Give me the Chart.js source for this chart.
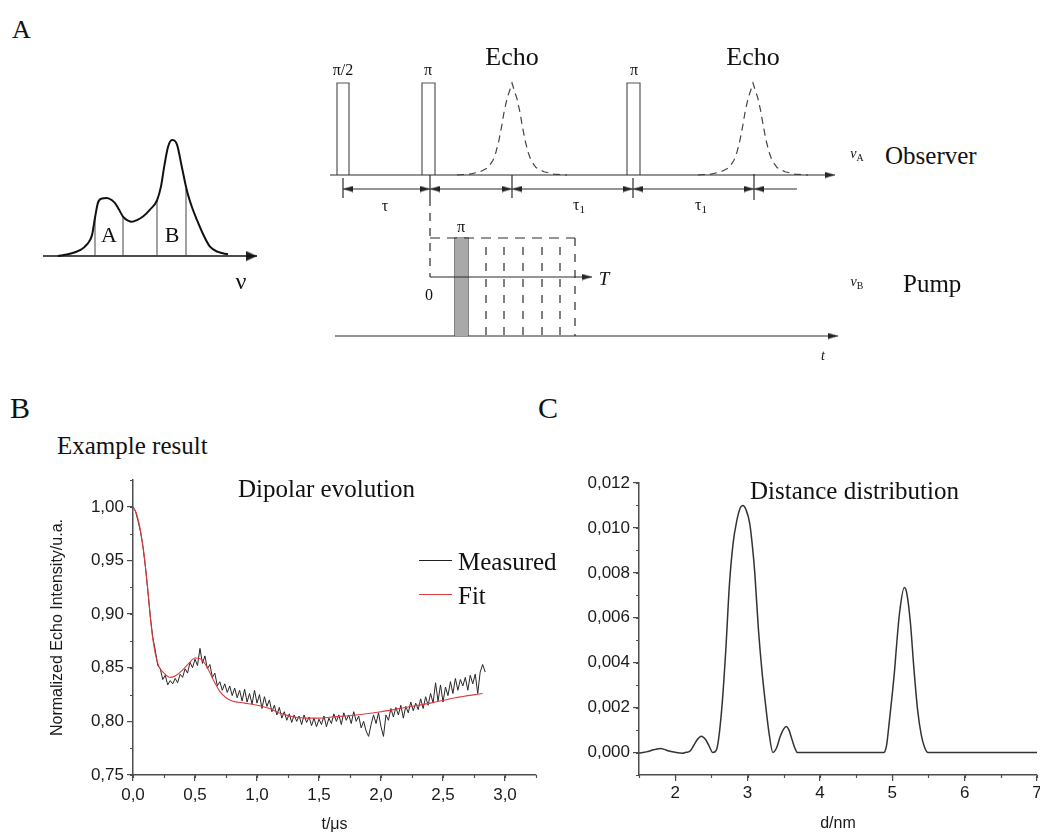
<!DOCTYPE html>
<html>
<head>
<meta charset="utf-8">
<script src="https://cdn.jsdelivr.net/npm/chart.js@4.4.0/dist/chart.umd.min.js"></script>
<style>
body { margin: 0; background: #fff; width: 1040px; height: 834px; position: relative; overflow: hidden; }
canvas { position: absolute; }
.lbl { position: absolute; white-space: nowrap; font-family: "Liberation Serif", "Times New Roman", serif; color: #111; line-height: 1; }
.c { transform: translate(-50%, -50%); }
.l { transform: translate(0, -50%); }
.lbl sub { font-size: 70%; vertical-align: -0.25em; font-style: normal; }
.sw { position: absolute; height: 1px; }
</style>
</head>
<body>
<canvas id="spec" width="250" height="180" style="left:30px;top:120px"></canvas>
<canvas id="seq" width="540" height="345" style="left:320px;top:30px"></canvas>
<canvas id="dipolar" width="560" height="374" style="left:0px;top:460px"></canvas>
<canvas id="dist" width="500" height="374" style="left:540px;top:460px"></canvas>
<div class="sw" style="left:419px;top:560px;width:33px;background:#222"></div>
<div class="sw" style="left:419px;top:594px;width:33px;background:#e0393e"></div>
<script>
// ---- panel A, left: absorption spectrum (arbitrary units) ----
var specNu = [15, 25, 37, 44, 49, 52, 55, 59, 64, 69, 72, 76, 80, 85, 89, 94, 100, 107, 114, 118, 121, 125, 129, 134, 139, 144, 149, 154, 160, 167, 175, 185];
var specI  = [0, 0.015, 0.05, 0.10, 0.18, 0.33, 0.46, 0.495, 0.50, 0.48, 0.455, 0.40, 0.34, 0.305, 0.295, 0.31, 0.34, 0.40, 0.48, 0.60, 0.76, 0.94, 1.0, 0.96, 0.76, 0.56, 0.42, 0.31, 0.19, 0.08, 0.035, 0.015];
var bandNu = [52, 80, 114, 143];
var bandI  = [0.33, 0.34, 0.48, 0.58];
var specAxisEnd = 214;

// ---- panel A, right: pulse sequence (time in arbitrary units) ----
var obsLevel = 200, pulseTop = 292, spanLevel = 186, pumpLevel = 39, pumpTop = 137, tAxisLevel = 98;
var obsPulseStart = [17, 102, 307];
var obsPulseEnd   = [29, 115, 320];
var echoCentre = [192, 433];
var echoOffset = [-55, -42, -32, -24, -19, -16, -13, -10, -8, -5, -2, 0, 2, 5, 8, 10, 13, 16, 19, 24, 32, 42, 55];
var echoShape  = [0, 0.01, 0.035, 0.08, 0.16, 0.25, 0.38, 0.55, 0.68, 0.83, 0.93, 1, 0.93, 0.83, 0.68, 0.55, 0.38, 0.25, 0.16, 0.08, 0.035, 0.01, 0];
var timeMarks = [23, 110, 192, 313, 434];
var markLow   = [177, 177, 177, 177, 175];
var markHigh  = [197, 200, 200, 197, 201];
var spanEnd = 477;
var pumpPulse = [135, 148];
var pumpSteps = [166, 184, 203, 222, 240];
var pumpBoxEnd = 255;
var stepTop = 128;

// ---- panel B: dipolar evolution ----
var tMeas = [0.00,0.02,0.04,0.06,0.08,0.10,0.12,0.14,0.16,0.18,0.20,0.22,0.24,0.26,0.28,0.30,0.32,0.34,0.36,0.38,
  0.40,0.42,0.44,0.46,0.48,0.50,0.52,0.54,0.56,0.58,0.60,0.62,0.64,0.66,0.68,0.70,0.72,0.74,0.76,0.78,
  0.80,0.82,0.84,0.86,0.88,0.90,0.92,0.94,0.96,0.98,1.00,1.02,1.04,1.06,1.08,1.10,1.12,1.14,1.16,1.18,
  1.20,1.22,1.24,1.26,1.28,1.30,1.32,1.34,1.36,1.38,1.40,1.42,1.44,1.46,1.48,1.50,1.52,1.54,1.56,1.58,
  1.60,1.62,1.64,1.66,1.68,1.70,1.72,1.74,1.76,1.78,1.80,1.82,1.84,1.86,1.88,1.90,1.92,1.94,1.96,1.98,
  2.00,2.02,2.04,2.06,2.08,2.10,2.12,2.14,2.16,2.18,2.20,2.22,2.24,2.26,2.28,2.30,2.32,2.34,2.36,2.38,
  2.40,2.42,2.44,2.46,2.48,2.50,2.52,2.54,2.56,2.58,2.60,2.62,2.64,2.66,2.68,2.70,2.72,2.74,2.76,2.78,
  2.80,2.82,2.84];
var measured = [1.000,0.996,0.987,0.977,0.963,0.944,0.921,0.897,0.878,0.866,0.852,0.849,0.839,0.843,0.834,0.838,0.835,0.840,0.836,0.844,
  0.841,0.849,0.845,0.855,0.850,0.858,0.852,0.868,0.854,0.861,0.849,0.853,0.841,0.845,0.833,0.837,0.829,0.835,0.827,0.833,
  0.824,0.831,0.822,0.829,0.819,0.830,0.818,0.826,0.816,0.829,0.817,0.825,0.812,0.823,0.814,0.820,0.809,0.815,0.806,0.813,
  0.803,0.809,0.801,0.807,0.799,0.806,0.800,0.805,0.797,0.806,0.799,0.804,0.796,0.803,0.795,0.802,0.797,0.805,0.795,0.803,
  0.798,0.807,0.800,0.806,0.797,0.808,0.801,0.806,0.798,0.809,0.800,0.805,0.794,0.800,0.791,0.786,0.797,0.806,0.798,0.808,
  0.795,0.786,0.806,0.801,0.812,0.804,0.813,0.806,0.815,0.803,0.814,0.808,0.818,0.810,0.817,0.811,0.821,0.812,0.823,0.815,
  0.826,0.817,0.836,0.819,0.834,0.818,0.832,0.824,0.837,0.826,0.840,0.829,0.839,0.833,0.841,0.829,0.843,0.835,0.844,0.826,
  0.846,0.853,0.846];
var tFit = [0, 0.03, 0.06, 0.09, 0.12, 0.15, 0.18, 0.21, 0.25, 0.30, 0.35, 0.40, 0.45, 0.50, 0.55, 0.60, 0.65, 0.70, 0.75, 0.80,
  0.90, 1.00, 1.10, 1.20, 1.30, 1.40, 1.50, 1.60, 1.80, 2.00, 2.20, 2.40, 2.60, 2.82];
var fit = [1.000, 0.993, 0.978, 0.955, 0.922, 0.886, 0.863, 0.851, 0.845, 0.841, 0.843, 0.848, 0.854, 0.859, 0.858, 0.850, 0.838, 0.828, 0.822, 0.819,
  0.817, 0.815, 0.812, 0.807, 0.804, 0.803, 0.803, 0.804, 0.806, 0.809, 0.813, 0.817, 0.822, 0.826];
var bXTicks = [0, 0.5, 1.0, 1.5, 2.0, 2.5, 3.0];
var bYTicks = [0.75, 0.80, 0.85, 0.90, 0.95, 1.00];

// ---- panel C: distance distribution ----
var dNm = [1.5, 1.6, 1.7, 1.75, 1.8, 1.85, 1.9, 2.0, 2.1, 2.15, 2.2, 2.25, 2.3, 2.36, 2.42, 2.47, 2.52, 2.567,
  2.6, 2.65, 2.7, 2.75, 2.8, 2.85, 2.9, 2.935, 2.98, 3.03, 3.07, 3.1, 3.15, 3.2, 3.25, 3.3, 3.35,
  3.4, 3.45, 3.5, 3.535, 3.57, 3.62, 3.66, 3.69, 3.75, 4.0, 4.5, 4.88,
  4.92, 4.95, 5.0, 5.033, 5.05, 5.1, 5.166, 5.2, 5.25, 5.3, 5.35, 5.4, 5.45, 5.494, 5.55, 6.0, 7.0];
var pDist = [-0.00002, 0.00003, 0.00012, 0.00016, 0.00018, 0.00014, 0.00008, 0.00001, -0.00003, 0.00001, 0.00005, 0.00028, 0.00055, 0.00073, 0.00058, 0.00028, 0.0, 0.0001,
  0.0006, 0.0022, 0.0046, 0.0075, 0.0093, 0.0103, 0.0109, 0.0110, 0.0108, 0.0102, 0.0091, 0.0080, 0.0055, 0.0036, 0.0021, 0.0008, 0.0,
  0.0002, 0.0007, 0.00105, 0.00116, 0.00102, 0.00052, 0.00015, 0.0, 0.0, 0.0, 0.0, 0.0,
  0.0003, 0.0011, 0.0026, 0.0037, 0.0044, 0.0062, 0.00735, 0.0071, 0.0058, 0.0037, 0.0019, 0.0008, 0.0002, 0.0, 0.0, 0.0, 0.0];
var cXTicks = [2, 3, 4, 5, 6, 7];
var cYTicks = [0, 0.002, 0.004, 0.006, 0.008, 0.010, 0.012];

var INK = '#2b2b2b';
var AX = '#4d4d4d';
Chart.defaults.font.family = '"Liberation Sans", Arial, sans-serif';
Chart.defaults.color = '#1a1a1a';

function pairs(xs, ys) {
  return xs.map(function (x, i) { return { x: x, y: ys[i] }; });
}

// arrowhead image, tip at the centre so rotation keeps the tip in place
function arrowHead(len, half) {
  var c = document.createElement('canvas');
  c.width = len * 2;
  c.height = half * 2 + 1;
  var g = c.getContext('2d');
  g.fillStyle = '#1e1e1e';
  g.beginPath();
  g.moveTo(0, 0.5);
  g.lineTo(len, half + 0.5);
  g.lineTo(0, half * 2 + 0.5);
  g.closePath();
  g.fill();
  return c;
}
var headBig = arrowHead(11, 5);
var headSmall = arrowHead(10, 3);

function seg(pts, extra) {
  var d = { data: pts, showLine: true, pointRadius: 0, borderColor: INK, borderWidth: 1.2, fill: false };
  for (var k in extra) d[k] = extra[k];
  return d;
}

function bareScales(xmin, xmax, ymin, ymax) {
  return {
    x: { type: 'linear', display: false, min: xmin, max: xmax },
    y: { type: 'linear', display: false, min: ymin, max: ymax }
  };
}

var bareOpts = function (scales) {
  return {
    responsive: false, animation: false, events: [],
    layout: { padding: 0, autoPadding: false },
    plugins: { legend: { display: false }, tooltip: { enabled: false } },
    scales: scales
  };
};

// ---------- spectrum ----------
var specSets = [
  seg(pairs(specNu, specI), { borderWidth: 2, borderColor: '#111', cubicInterpolationMode: 'monotone' })
];
bandNu.forEach(function (nu, i) {
  specSets.push(seg([{ x: nu, y: 0 }, { x: nu, y: bandI[i] }], { borderWidth: 1, borderColor: '#444' }));
});
specSets.push(seg([{ x: 0, y: 0 }, { x: specAxisEnd, y: 0 }], { borderWidth: 1.3, borderColor: '#111' }));
specSets.push({ data: [{ x: specAxisEnd, y: 0 }], showLine: false, pointStyle: headBig, pointRadius: 6, pointRotation: 0 });

new Chart(document.getElementById('spec'), {
  type: 'scatter',
  data: { datasets: specSets },
  options: bareOpts(bareScales(-13, 237, -0.379, 1.172))
});

// ---------- pulse sequence ----------
var seqSets = [];
var heads = [];
// observer axis
seqSets.push(seg([{ x: 10, y: obsLevel }, { x: 515, y: obsLevel }]));
heads.push([515, obsLevel, 0]);
// observer pulses
obsPulseStart.forEach(function (s, i) {
  var e = obsPulseEnd[i];
  seqSets.push(seg([{ x: s, y: obsLevel }, { x: s, y: pulseTop }, { x: e, y: pulseTop }, { x: e, y: obsLevel }], { borderColor: '#555' }));
});
// echoes
echoCentre.forEach(function (c) {
  seqSets.push(seg(echoOffset.map(function (o, i) {
    return { x: c + o, y: obsLevel + echoShape[i] * (pulseTop - obsLevel) };
  }), { borderDash: [7, 5], borderColor: '#444' }));
});
// time marks and spans
timeMarks.forEach(function (t, i) {
  seqSets.push(seg([{ x: t, y: markLow[i] }, { x: t, y: markHigh[i] }]));
});
seqSets.push(seg([{ x: timeMarks[0], y: spanLevel }, { x: spanEnd, y: spanLevel }]));
timeMarks.forEach(function (t, i) {
  if (i > 0) heads.push([t, spanLevel, 0]);
  heads.push([t, spanLevel, 180]);
});
// pump window (dashed)
seqSets.push(seg([{ x: timeMarks[1], y: markLow[1] }, { x: timeMarks[1], y: tAxisLevel }], { borderDash: [8, 7] }));
seqSets.push(seg([{ x: timeMarks[1], y: pumpTop }, { x: pumpBoxEnd, y: pumpTop }], { borderDash: [10, 7] }));
seqSets.push(seg([{ x: pumpBoxEnd, y: pumpTop }, { x: pumpBoxEnd, y: pumpLevel }], { borderDash: [8, 8] }));
pumpSteps.forEach(function (t) {
  seqSets.push(seg([{ x: t, y: stepTop }, { x: t, y: pumpLevel }], { borderDash: [8, 8] }));
});
// T axis
seqSets.push(seg([{ x: timeMarks[1], y: tAxisLevel }, { x: 272, y: tAxisLevel }]));
heads.push([272, tAxisLevel, 0]);
// pump pulse (grey)
seqSets.push(seg([{ x: pumpPulse[0], y: pumpTop }, { x: pumpPulse[1], y: pumpTop }], { borderWidth: 0, fill: { value: pumpLevel }, backgroundColor: '#a9a9a9' }));
seqSets.push(seg([{ x: pumpPulse[0], y: pumpLevel }, { x: pumpPulse[0], y: pumpTop }, { x: pumpPulse[1], y: pumpTop }, { x: pumpPulse[1], y: pumpLevel }], { borderColor: '#333' }));
// pump axis
seqSets.push(seg([{ x: 15, y: pumpLevel }, { x: 518, y: pumpLevel }]));
heads.push([518, pumpLevel, 0]);
seqSets.push({
  data: heads.map(function (h) { return { x: h[0], y: h[1] }; }),
  showLine: false, pointStyle: headSmall, pointRadius: 6,
  pointRotation: heads.map(function (h) { return h[2]; })
});

new Chart(document.getElementById('seq'), {
  type: 'scatter',
  data: { datasets: seqSets },
  options: bareOpts(bareScales(0, 540, 0, 345))
});

// ---------- data plots ----------
var minorTicks = {
  id: 'minorTicks',
  afterDraw: function (chart, args, opts) {
    var ctx = chart.ctx;
    ctx.save();
    ctx.strokeStyle = AX;
    ctx.lineWidth = 1.2;
    ['x', 'y'].forEach(function (id) {
      var step = opts[id], s = chart.scales[id];
      if (!step) return;
      ctx.beginPath();
      for (var k = Math.ceil(s.min / step - 1e-6); k * step <= s.max + 1e-9; k++) {
        var p = Math.round(s.getPixelForValue(k * step)) + 0.5;
        if (id === 'x') { ctx.moveTo(p, s.top); ctx.lineTo(p, s.top + opts.len); }
        else { ctx.moveTo(s.right, p); ctx.lineTo(s.right - opts.len, p); }
      }
      ctx.stroke();
    });
    ctx.restore();
  }
};

function comma(dec) {
  return function (v) { return Number(v).toFixed(dec).replace('.', ','); };
}

function axis(min, max, ticks, fmt, fitFn, tickPad, title) {
  return {
    type: 'linear', min: min, max: max,
    afterBuildTicks: function (s) { s.ticks = ticks.map(function (v) { return { value: v }; }); },
    afterFit: fitFn,
    grid: { drawOnChartArea: false, tickLength: 6, color: AX, lineWidth: 1.2 },
    border: { color: AX, width: 1.5 },
    ticks: { callback: fmt, font: { size: 17 }, padding: tickPad, maxRotation: 0, autoSkip: false, color: '#1a1a1a' },
    title: title ? { display: true, text: title.text, font: { size: title.size }, padding: 0, color: '#1a1a1a' } : { display: false }
  };
}

new Chart(document.getElementById('dipolar'), {
  type: 'scatter',
  data: {
    datasets: [
      { data: pairs(tFit, fit), showLine: true, pointRadius: 0, borderColor: '#e0393e', borderWidth: 1.1, cubicInterpolationMode: 'monotone' },
      { data: pairs(tMeas, measured), showLine: true, pointRadius: 0, borderColor: '#262626', borderWidth: 1 }
    ]
  },
  options: {
    responsive: false, animation: false, events: [],
    layout: { padding: { left: 48, top: 20, right: 24, bottom: 0 }, autoPadding: false },
    plugins: { legend: { display: false }, tooltip: { enabled: false }, minorTicks: { x: 0.25, y: 0.025, len: 3 } },
    scales: {
      x: axis(0, 3.25, bXTicks, comma(1), function (s) { s.height = 59; s.paddingLeft = 0; s.paddingRight = 0; }, 4, { text: 't/μs', size: 16 }),
      y: axis(0.75, 1.025, bYTicks, comma(2), function (s) { s.width = 85; s.paddingTop = 0; s.paddingBottom = 0; }, 3, { text: 'Normalized Echo Intensity/u.a.', size: 16 })
    }
  },
  plugins: [minorTicks]
});

new Chart(document.getElementById('dist'), {
  type: 'scatter',
  data: {
    datasets: [
      { data: pairs(dNm, pDist), showLine: true, pointRadius: 0, borderColor: '#333', borderWidth: 1.5, cubicInterpolationMode: 'monotone' }
    ]
  },
  options: {
    responsive: false, animation: false, events: [],
    layout: { padding: { left: 10, top: 23, right: 3, bottom: 1 }, autoPadding: false },
    plugins: { legend: { display: false }, tooltip: { enabled: false }, minorTicks: { x: 0.5, y: 0.001, len: 3 } },
    scales: {
      x: axis(1.5, 7, cXTicks, comma(0), function (s) { s.height = 58; s.paddingLeft = 0; s.paddingRight = 0; }, 2, { text: 'd/nm', size: 16 }),
      y: axis(-0.001, 0.012, cYTicks, comma(3), function (s) { s.width = 89; s.paddingTop = 0; s.paddingBottom = 0; }, 3, null)
    }
  },
  plugins: [minorTicks]
});

// ---------- text ----------
var notes = [
  ['A', 12, 30, 26, 'l', ''],
  ['B', 10, 408, 30, 'l', ''],
  ['C', 538, 408, 30, 'l', ''],
  ['A', 109, 235, 22, 'c', ''],
  ['B', 172, 235, 22, 'c', ''],
  ['ν', 241, 281, 24, 'c', ''],
  ['π/2', 343, 70, 16, 'c', ''],
  ['π', 428, 70, 16, 'c', ''],
  ['π', 634, 70, 16, 'c', ''],
  ['Echo', 512, 57, 26, 'c', ''],
  ['Echo', 753, 57, 26, 'c', ''],
  ['τ', 385, 206, 16, 'c', ''],
  ['τ<sub>1</sub>', 579, 206, 16, 'c', ''],
  ['τ<sub>1</sub>', 701, 206, 16, 'c', ''],
  ['π', 461, 227, 16, 'c', ''],
  ['0', 429, 295, 16, 'c', ''],
  ['T', 604, 278, 19, 'c', 'font-style:italic'],
  ['t', 823, 356, 14, 'c', 'font-style:italic'],
  ['ν<sub>A</sub>', 857, 155, 14, 'c', 'font-style:italic'],
  ['Observer', 885, 155, 25, 'l', ''],
  ['ν<sub>B</sub>', 857, 283, 14, 'c', 'font-style:italic'],
  ['Pump', 903, 283, 25, 'l', ''],
  ['Example result', 57, 445, 25, 'l', ''],
  ['Dipolar evolution', 238, 488, 25, 'l', ''],
  ['Measured', 458, 561, 25, 'l', ''],
  ['Fit', 458, 595, 25, 'l', ''],
  ['Distance distribution', 750, 490, 25, 'l', '']
];
notes.forEach(function (n) {
  var d = document.createElement('div');
  d.className = 'lbl ' + n[4];
  d.innerHTML = n[0];
  d.style.cssText = 'left:' + n[1] + 'px;top:' + n[2] + 'px;font-size:' + n[3] + 'px;' + n[5];
  document.body.appendChild(d);
});
</script>
</body>
</html>
